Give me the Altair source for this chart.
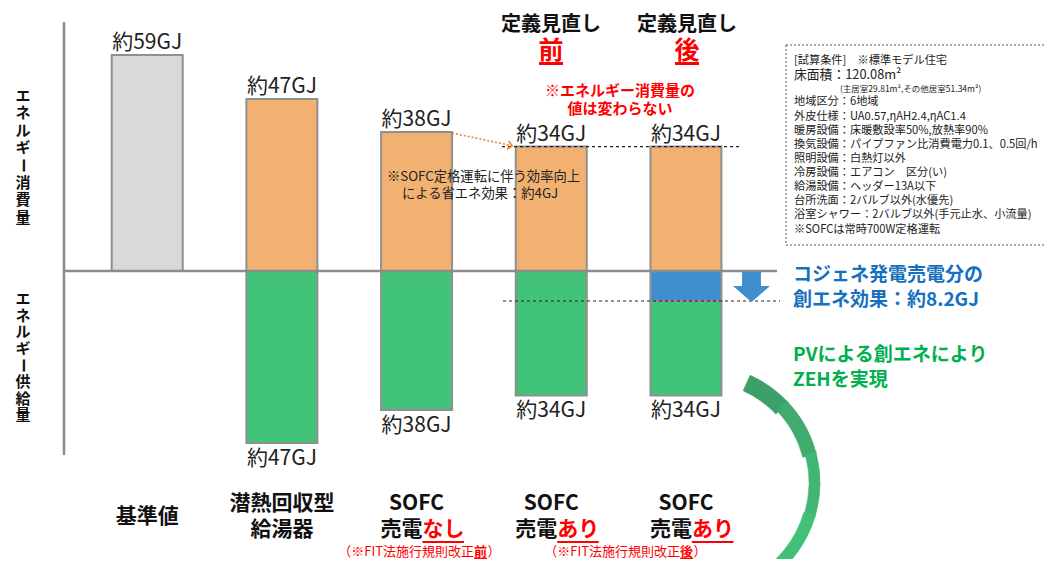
import altair as alt
import pandas as pd

FONT = "Noto Sans CJK JP"

# ---------------- data ----------------
cat_line1 = ["基準値", "潜熱回収型", "SOFC", "SOFC", "SOFC"]
cat_line2 = ["", "給湯器", "売電", "売電", "売電"]
cat_red = ["", "", "なし", "あり", "あり"]
consumption = [59, 47, 38, 34, 34]          # GJ (energy consumption)
supply = [0, 47, 38, 34, 34]                # GJ (energy supply)
cogen_sale = [0, 0, 0, 0, 8.2]              # GJ (cogeneration electricity sold)

header_top = ["定義見直し", "定義見直し"]
header_red = ["前", "後"]
note_red = ["※エネルギー消費量の", "値は変わらない"]
note_sofc = ["※SOFC定格運転に伴う効率向上", "による省エネ効果：約4GJ"]
ylab_top = list("エネルギー消費量")
ylab_bottom = list("エネルギー供給量")
cond_lines = [
    "[試算条件]　※標準モデル住宅",
    "床面積：120.08m²",
    "(主居室29.81m²,その他居室51.34m²)",
    "地域区分：6地域",
    "外皮仕様：UA0.57,ηAH2.4,ηAC1.4",
    "暖房設備：床暖敷設率50%,放熱率90%",
    "換気設備：パイプファン比消費電力0.1、0.5回/h",
    "照明設備：白熱灯以外",
    "冷房設備：エアコン　区分(い)",
    "給湯設備：ヘッダー13A以下",
    "台所洗面：2バルブ以外(水優先)",
    "浴室シャワー：2バルブ以外(手元止水、小流量)",
    "※SOFCは常時700W定格運転",
]
blue_text = ["コジェネ発電売電分の", "創エネ効果：約8.2GJ"]
green_text = ["PVによる創エネにより", "ZEHを実現"]
fit_text = ["（※FIT法施行規則改正", "前", "後", "）"]

# ---------------- layout helpers ----------------
W, H = 1036, 551
CAT_PX = 136.0
PX_PER_GJ = 3.66
ZERO_Y = 263.0
xsc = alt.Scale(domain=[-135.5 / CAT_PX, (W - 135.5) / CAT_PX], range=[0, W], nice=False, zero=False)
ysc = alt.Scale(domain=[-(H - ZERO_Y) / PX_PER_GJ, ZERO_Y / PX_PER_GJ], range=[H, 0], nice=False, zero=False)

one = pd.DataFrame({"a": [0]})
base = alt.Chart(one)


def P(v):
    return v - 8


def txt(x, y, t, size=12, color="#222222", weight="normal", align="center", baseline="middle", angle=0):
    kw = dict(text=t, font=FONT, fontSize=size, color=color, fontWeight=weight,
              align=align, baseline=baseline)
    if angle:
        kw["angle"] = angle
    return base.mark_text(**kw).encode(x=alt.value(P(x)), y=alt.value(P(y)))


def hline(x1, x2, y, color, width, dash=None):
    kw = dict(color=color, strokeWidth=width)
    if dash:
        kw["strokeDash"] = dash
    return base.mark_rule(**kw).encode(x=alt.value(P(x1)), x2=alt.value(P(x2)), y=alt.value(P(y)))


# ---------------- bars ----------------
rows = []
for i, (c, s, g) in enumerate(zip(consumption, supply, cogen_sale)):
    rows.append(dict(i=i, y0=0, y1=c, kind="base" if i == 0 else "cons"))
    if g > 0:
        rows.append(dict(i=i, y0=0, y1=-g, kind="sale"))
    if s > 0:
        rows.append(dict(i=i, y0=-g, y1=-s, kind="supply"))
bars_df = pd.DataFrame(rows)

bars = alt.Chart(bars_df).mark_bar(size=71, stroke="#8f8f8f", strokeWidth=2).encode(
    x=alt.X("i:Q", scale=xsc, axis=None),
    y=alt.Y("y0:Q", scale=ysc, axis=None),
    y2="y1:Q",
    color=alt.Color("kind:N", legend=None,
                    scale=alt.Scale(domain=["base", "cons", "sale", "supply"],
                                    range=["#d9d9d9", "#f2b171", "#3f8fcf", "#41c47a"])),
)

top_lab = pd.DataFrame({"i": list(range(5)), "v": consumption,
                        "t": [f"約{v}GJ" for v in consumption]})
bot_lab = pd.DataFrame({"i": [i for i, s in enumerate(supply) if s > 0],
                        "v": [-s for s in supply if s > 0],
                        "t": [f"約{s}GJ" for s in supply if s > 0]})

top_text = alt.Chart(top_lab).mark_text(font=FONT, fontSize=21, color="#222222",
                                        baseline="alphabetic", dy=-6).encode(
    x=alt.X("i:Q", scale=xsc), y=alt.Y("v:Q", scale=ysc), text="t:N")
bot_text = alt.Chart(bot_lab).mark_text(font=FONT, fontSize=21, color="#222222",
                                        baseline="top", dy=5).encode(
    x=alt.X("i:Q", scale=xsc), y=alt.Y("v:Q", scale=ysc), text="t:N")

# category labels
SPLIT = 6.0
cat_df = pd.DataFrame({"i": list(range(5)), "l1": cat_line1, "l2": cat_line2, "r": cat_red})
cat_df["u0"] = cat_df["i"] + SPLIT / CAT_PX
cat_df["u1"] = cat_df["i"] + (SPLIT + 42) / CAT_PX
single = cat_df[cat_df["l2"] == ""]
double = cat_df[cat_df["l2"] != ""]
redcat = cat_df[cat_df["r"] != ""]
plain2 = cat_df[(cat_df["l2"] != "") & (cat_df["r"] == "")]

CAT_SIZE = 21
cat_single = alt.Chart(single).mark_text(font=FONT, fontSize=CAT_SIZE, fontWeight="bold", color="#111111").encode(
    x=alt.X("i:Q", scale=xsc), y=alt.value(P(517)), text="l1:N")
cat_l1 = alt.Chart(double).mark_text(font=FONT, fontSize=CAT_SIZE, fontWeight="bold", color="#111111").encode(
    x=alt.X("i:Q", scale=xsc), y=alt.value(P(504)), text="l1:N")
cat_l2_plain = alt.Chart(plain2).mark_text(font=FONT, fontSize=CAT_SIZE, fontWeight="bold", color="#111111").encode(
    x=alt.X("i:Q", scale=xsc), y=alt.value(P(530)), text="l2:N")
cat_l2_black = alt.Chart(redcat).mark_text(font=FONT, fontSize=CAT_SIZE, fontWeight="bold", color="#111111",
                                           align="right", dx=SPLIT).encode(
    x=alt.X("i:Q", scale=xsc), y=alt.value(P(530)), text="l2:N")
cat_l2_red = alt.Chart(redcat).mark_text(font=FONT, fontSize=CAT_SIZE, fontWeight="bold", color="#ff0000",
                                         align="left", dx=SPLIT).encode(
    x=alt.X("i:Q", scale=xsc), y=alt.value(P(530)), text="r:N")
cat_ul = alt.Chart(redcat).mark_rule(color="#ff0000", strokeWidth=2).encode(
    x=alt.X("u0:Q", scale=xsc), x2="u1:Q", y=alt.value(P(542)))

# ---------------- frame lines ----------------
axis_v = base.mark_rule(color="#8c8c8c", strokeWidth=2.5).encode(
    x=alt.value(P(64)), y=alt.value(P(22)), y2=alt.value(P(455)))
axis_h = base.mark_rule(color="#8c8c8c", strokeWidth=2.5).encode(
    x=alt.value(P(64)), x2=alt.value(P(777)), y=alt.datum(0, scale=ysc))
dash34 = base.mark_rule(color="#222222", strokeWidth=1.2, strokeDash=[3, 3]).encode(
    x=alt.value(P(502)), x2=alt.value(P(740)), y=alt.datum(consumption[3], scale=ysc))
dash82 = base.mark_rule(color="#222222", strokeWidth=1.2, strokeDash=[3, 3]).encode(
    x=alt.value(P(503)), x2=alt.value(P(780)), y=alt.datum(-cogen_sale[4], scale=ysc))

# orange dotted arrow
orange_line = base.mark_rule(color="#ed7d31", strokeWidth=1.5, strokeDash=[2, 2]).encode(
    x=alt.value(P(452)), y=alt.value(P(133)), x2=alt.value(P(513)), y2=alt.value(P(146)))
orange_head = base.mark_point(shape="M-1,-1L0,0L-1,1", size=70, filled=False, color="#ed7d31",
                              strokeWidth=1.5, angle=13, opacity=1).encode(
    x=alt.value(P(512)), y=alt.value(P(146)))

# blue down arrow
blue_arrow = base.mark_point(
    shape="M-0.51,-0.81L0.51,-0.81L0.51,-0.05L1,-0.05L0,0.81L-1,-0.05L-0.51,-0.05Z",
    size=1369, filled=True, color="#3f8fcf", opacity=1, strokeWidth=0).encode(
    x=alt.value(P(751.5)), y=alt.value(P(287)))

# green arc (crescent approximated by overlapping segments)
arc_segments = [
    (0.42, 0.82, 101, "#3c9f69"),
    (0.80, 1.32, 104, "#3fab6e"),
    (1.30, 1.87, 107, "#41b673"),
    (1.85, 2.65, 106, "#43c078"),
]
arcs = []
for t0, t1, r2, col in arc_segments:
    arcs.append(base.mark_arc(color=col, stroke=col, strokeWidth=0.6, radius=118, radius2=r2,
                              theta=t0, theta2=t1).encode(
        x=alt.value(P(702)), y=alt.value(P(483)), opacity=alt.value(1)))

# condition box
box = base.mark_rect(fill="white", fillOpacity=0, stroke="#555555", strokeWidth=1, strokeDash=[2, 2]).encode(
    x=alt.value(P(786)), x2=alt.value(P(1047)), y=alt.value(P(45)), y2=alt.value(P(245)))

layers = [bars, axis_v, axis_h, dash34, dash82, top_text, bot_text,
          cat_single, cat_l1, cat_l2_plain, cat_l2_black, cat_l2_red, cat_ul,
          orange_line, orange_head, blue_arrow, box] + arcs

# headers
for cx, top, red in zip([551, 687], header_top, header_red):
    layers.append(txt(cx, 24.5, top, size=20, weight="bold", color="#111111"))
    layers.append(txt(cx, 50.5, red, size=25, weight="bold", color="#ff0000"))
    layers.append(hline(cx - 12, cx + 12, 63.5, "#ff0000", 3))

# red note
layers.append(txt(620, 91, note_red[0], size=15, weight="bold", color="#ff0000"))
layers.append(txt(620, 109, note_red[1], size=15, weight="bold", color="#ff0000"))

# SOFC note
layers.append(txt(387, 177, note_sofc[0], size=13.3, align="left"))
layers.append(txt(402, 194, note_sofc[1], size=13.3, align="left"))

# vertical y labels
for k, ch in enumerate(ylab_top):
    layers.append(txt(23, 96 + 17.4 * k, ch, size=15, weight="bold", color="#111111",
                      angle=90 if ch == "ー" else 0))
for k, ch in enumerate(ylab_bottom):
    layers.append(txt(23, 299 + 16.6 * k, ch, size=15, weight="bold", color="#111111",
                      angle=90 if ch == "ー" else 0))

# condition text
cond_y = [61, 75, 89, 102, 116.5, 130.5, 144.5, 158.5, 172.5, 187, 201, 215, 229.5]
for k, (line, yy) in enumerate(zip(cond_lines, cond_y)):
    if k == 2:
        layers.append(txt(840, yy, line, size=8.5, align="left"))
    elif k == 1:
        layers.append(txt(794, yy, line, size=12.8, align="left"))
    else:
        layers.append(txt(794, yy, line, size=11.2, align="left"))

# blue and green statements
layers.append(txt(793, 275, blue_text[0], size=19, weight="bold", color="#1670c0", align="left"))
layers.append(txt(793, 300, blue_text[1], size=19, weight="bold", color="#1670c0", align="left"))
layers.append(txt(793, 355, green_text[0], size=19, weight="bold", color="#00b050", align="left"))
layers.append(txt(793, 380, green_text[1], size=19, weight="bold", color="#00b050", align="left"))

# FIT notes (kept inside the visible page area)
for split, mark in [(474, fit_text[1]), (680, fit_text[2])]:
    layers.append(txt(split, 551.5, fit_text[0], size=13, color="#ff0000", align="right"))
    layers.append(txt(split, 551.5, mark, size=13, weight="bold", color="#ff0000", align="left"))
    layers.append(txt(split + 13.5, 551.5, fit_text[3], size=13, color="#ff0000", align="left"))
    layers.append(hline(split, split + 13, 558.3, "#ff0000", 1.3))

chart = alt.layer(*layers, data=one).properties(
    width=W, height=H, autosize=alt.AutoSizeParams(type="none"), padding=0
).configure_view(stroke=None)

chart.save("out.html", embed_options={"renderer": "svg", "actions": False})
